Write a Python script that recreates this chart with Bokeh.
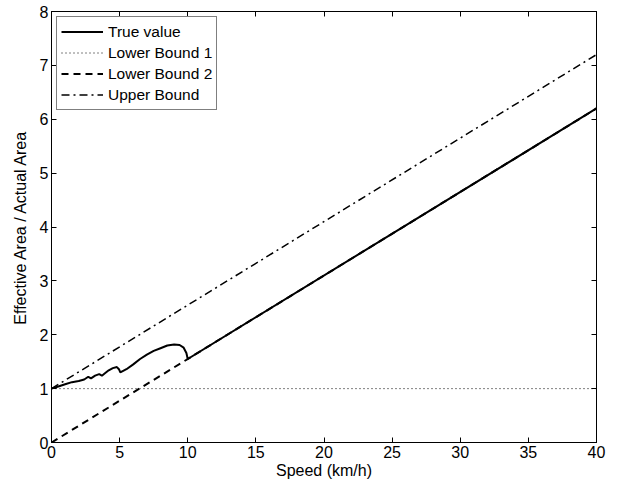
from bokeh.plotting import figure
from bokeh.models import Range1d, FixedTicker, LinearAxis, Legend, LegendItem
from bokeh.embed import file_html
from bokeh.resources import INLINE

# Data
speed_line = [0, 40]
lower_bound_1 = [1.0, 1.0]
lower_bound_2 = [0.0, 6.2]
upper_bound = [1.0, 7.2]

true_speed = [0, 0.5, 1.0, 1.5, 2.0, 2.4, 2.7, 2.9, 3.2, 3.5, 3.7, 3.9, 4.2, 4.5,
              4.8, 4.95, 5.05, 5.5, 6.0, 6.5, 7.0, 7.5, 8.0, 8.5, 9.0, 9.4, 9.7,
              9.9, 10.0, 40.0]
true_value = [1.0, 1.04, 1.08, 1.12, 1.14, 1.17, 1.22, 1.19, 1.24, 1.27, 1.24, 1.28,
              1.34, 1.38, 1.40, 1.36, 1.30, 1.36, 1.45, 1.55, 1.63, 1.70, 1.75, 1.80,
              1.82, 1.81, 1.76, 1.66, 1.55, 6.2]

x_ticks = [0, 5, 10, 15, 20, 25, 30, 35, 40]
y_ticks = [0, 1, 2, 3, 4, 5, 6, 7, 8]

FONT = "Liberation Sans"

p = figure(width=618, height=485, output_backend="svg", toolbar_location=None,
           x_range=Range1d(0, 40), y_range=Range1d(0, 8),
           min_border_left=51, min_border_right=22, min_border_top=11,
           min_border_bottom=43)
p.background_fill_color = "white"
p.border_fill_color = "white"
p.outline_line_color = "black"
p.outline_line_width = 1
p.xgrid.visible = False
p.ygrid.visible = False

r_true = p.line(true_speed, true_value, line_color="black", line_width=2)
r_lb1 = p.line(speed_line, lower_bound_1, line_color="black", line_width=1, line_dash="1 3")
r_lb2 = p.line(speed_line, lower_bound_2, line_color="black", line_width=2, line_dash="7 5")
r_ub = p.line(speed_line, upper_bound, line_color="black", line_width=1.5, line_dash="8 4 2 4")

def style_axis(ax):
    ax.axis_line_color = "black"
    ax.major_tick_line_color = "black"
    ax.major_tick_in = 5
    ax.major_tick_out = 0
    ax.minor_tick_line_color = "black"
    ax.minor_tick_in = 5
    ax.minor_tick_out = 0
    ax.major_label_text_font = FONT
    ax.major_label_text_color = "black"
    ax.major_label_text_font_size = "16px"
    ax.axis_label_text_font = FONT
    ax.axis_label_text_font_style = "normal"
    ax.axis_label_text_color = "black"
    ax.axis_label_text_font_size = "16px"

p.xaxis.ticker = FixedTicker(ticks=x_ticks)
p.yaxis.ticker = FixedTicker(ticks=y_ticks)
style_axis(p.xaxis[0])
style_axis(p.yaxis[0])
p.xaxis.axis_label = "Speed (km/h)"
p.yaxis.axis_label = "Effective Area / Actual Area"
p.xaxis.major_label_standoff = 3
p.xaxis.axis_label_standoff = 1
p.yaxis.major_label_standoff = 3
p.yaxis.axis_label_standoff = 8

# box ticks on the right and top (tick marks only, no labels)
ax_r = LinearAxis(ticker=FixedTicker(ticks=[], minor_ticks=y_ticks))
style_axis(ax_r)
p.add_layout(ax_r, "right")
ax_t = LinearAxis(ticker=FixedTicker(ticks=[], minor_ticks=x_ticks))
style_axis(ax_t)
p.add_layout(ax_t, "above")

legend = Legend(items=[
    LegendItem(label="True value", renderers=[r_true]),
    LegendItem(label="Lower Bound 1", renderers=[r_lb1]),
    LegendItem(label="Lower Bound 2", renderers=[r_lb2]),
    LegendItem(label="Upper Bound", renderers=[r_ub]),
], location="top_left")
legend.margin = 5
legend.padding = 4
legend.spacing = 0
legend.glyph_width = 42
legend.glyph_height = 21
legend.label_height = 21
legend.label_standoff = 5
legend.label_text_font = FONT
legend.label_text_font_size = "15.5px"
legend.label_text_color = "black"
legend.border_line_color = "black"
legend.border_line_width = 1
legend.background_fill_color = "white"
legend.background_fill_alpha = 1
p.add_layout(legend)

open("out.html", "w").write(file_html(p, INLINE))
